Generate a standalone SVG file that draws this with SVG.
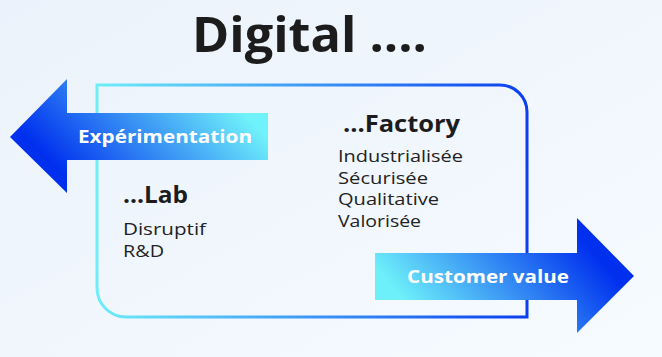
<svg xmlns="http://www.w3.org/2000/svg" width="662" height="357" viewBox="0 0 662 357">
  <defs>
    <linearGradient id="bg" x1="0" y1="0" x2="1" y2="1">
      <stop offset="0" stop-color="#ecf2fb"/>
      <stop offset="1" stop-color="#f5fbff"/>
    </linearGradient>
    <linearGradient id="boxg" gradientUnits="userSpaceOnUse" x1="96" y1="200" x2="528" y2="200">
      <stop offset="0" stop-color="#6eeef8"/>
      <stop offset="1" stop-color="#0a3ef0"/>
    </linearGradient>
    <linearGradient id="leftg" gradientUnits="userSpaceOnUse" x1="90" y1="200" x2="210" y2="80">
      <stop offset="0" stop-color="#0030ee"/>
      <stop offset="1" stop-color="#70f2fa"/>
    </linearGradient>
    <linearGradient id="rightg" gradientUnits="userSpaceOnUse" x1="430" y1="330" x2="560" y2="215">
      <stop offset="0" stop-color="#6ef0fa"/>
      <stop offset="1" stop-color="#0030ee"/>
    </linearGradient>
    <style>
      .title{font-family:"Open Sans","Liberation Sans",sans-serif;font-weight:700;fill:#1c1c1c}
      .head{font-family:"Open Sans","Liberation Sans",sans-serif;font-weight:700;fill:#1c1c1c}
      .item{font-family:"Open Sans","Liberation Sans",sans-serif;font-weight:400;fill:#222;font-size:16.5px}
      .arrowtxt{font-family:"Open Sans","Liberation Sans",sans-serif;font-weight:700;fill:#ffffff;font-size:17px}
    </style>
  </defs>
  <rect width="662" height="357" fill="url(#bg)"/>

  <g id="frame">
    <path d="M97 85 H500 A27 27 0 0 1 527 112 V317 H126 A29 29 0 0 1 97 288 Z" fill="none" stroke="url(#boxg)" stroke-width="3"/>
  </g>

  <g id="title">
    <text class="title" x="192" y="52" font-size="48" textLength="235" lengthAdjust="spacingAndGlyphs">Digital ....</text>
  </g>

  <g id="arrow-left">
    <path d="M10 137 L67 79 V113 H268 V160 H67 V193 Z" fill="url(#leftg)"/>
    <text class="arrowtxt" x="78" y="143" textLength="174" lengthAdjust="spacingAndGlyphs">Expérimentation</text>
  </g>

  <g id="arrow-right">
    <path d="M375 253 H577 V218 L634 276 L577 333 V300 H375 Z" fill="url(#rightg)"/>
    <text class="arrowtxt" x="407" y="283" textLength="162" lengthAdjust="spacingAndGlyphs">Customer value</text>
  </g>

  <g id="factory">
    <text class="head" x="343" y="132" font-size="23" textLength="117" lengthAdjust="spacingAndGlyphs">...Factory</text>
    <text class="item" x="338" y="162" textLength="125" lengthAdjust="spacingAndGlyphs">Industrialisée</text>
    <text class="item" x="338" y="184" textLength="90" lengthAdjust="spacingAndGlyphs">Sécurisée</text>
    <text class="item" x="338" y="205" textLength="101" lengthAdjust="spacingAndGlyphs">Qualitative</text>
    <text class="item" x="338" y="227" textLength="83" lengthAdjust="spacingAndGlyphs">Valorisée</text>
  </g>

  <g id="lab">
    <text class="head" x="123" y="203" font-size="23" textLength="65" lengthAdjust="spacingAndGlyphs">...Lab</text>
    <text class="item" x="123" y="235" textLength="83" lengthAdjust="spacingAndGlyphs">Disruptif</text>
    <text class="item" x="123" y="257" textLength="41" lengthAdjust="spacingAndGlyphs">R&amp;D</text>
  </g>

  <g id="connectors"/>
</svg>
